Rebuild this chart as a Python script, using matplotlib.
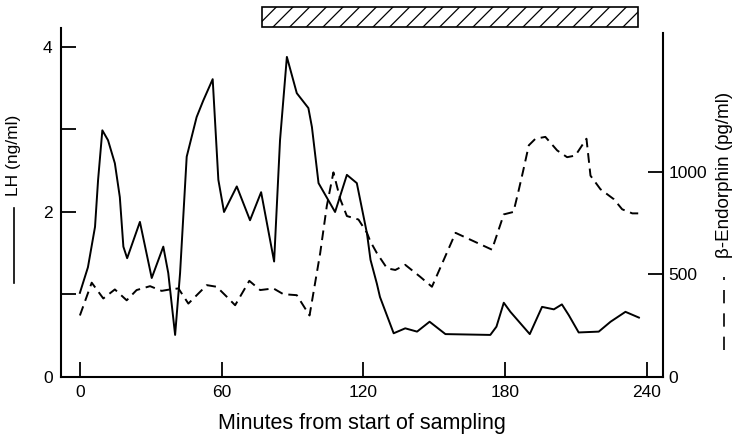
import matplotlib
matplotlib.use("Agg")
import matplotlib.pyplot as plt
from matplotlib.patches import Rectangle
from matplotlib.lines import Line2D
import numpy as np

plt.rcParams['font.family'] = ['Liberation Sans', 'DejaVu Sans']
plt.rcParams['hatch.linewidth'] = 0.9

# LH (ng/ml), solid line
lh_min = [0, 3.4, 6.4, 7.7, 9.5, 11.9, 14.8, 16.9, 18.4, 20, 25.4, 30.4, 35.3, 37.4,
          40.3, 42.4, 45.2, 49.4, 52.2, 56.2, 58.6, 61, 66.4, 72, 76.7, 82.2, 84.7,
          87.6, 91.8, 96.7, 98.2, 101, 108, 113, 117.2, 121.5, 123, 125.7, 127,
          132.8, 137.7, 142.7, 148, 154.7, 173.7, 176.3, 179.4, 182.2, 190.4,
          195.6, 200.6, 204, 206.9, 211.1, 219.6, 224.6, 230.9, 236.6]
lh_val = [1.02, 1.33, 1.82, 2.39, 2.99, 2.87, 2.59, 2.18, 1.58, 1.44, 1.88, 1.20, 1.58, 1.26,
          0.51, 1.26, 2.67, 3.15, 3.35, 3.61, 2.39, 2.00, 2.31, 1.90, 2.24, 1.40, 2.87,
          3.88, 3.44, 3.26, 3.03, 2.35, 2.00, 2.45, 2.35, 1.74, 1.42, 1.13, 0.97,
          0.53, 0.59, 0.55, 0.67, 0.52, 0.51, 0.61, 0.90, 0.79, 0.52,
          0.85, 0.82, 0.88, 0.75, 0.54, 0.55, 0.67, 0.79, 0.72]

# beta-endorphin (pg/ml), dashed line
be_min = [0, 5, 9.9, 14.8, 19.8, 24, 29.7, 34.6, 38.1, 41.7, 45.9, 53.7, 57.9,
          62.2, 65.7, 71.7, 76.3, 81.9, 86.1, 91.8, 97.2, 101.7, 104.5, 107.3,
          110.2, 113, 117.9, 121.5, 122.9, 125.7, 130, 133.5, 137.7, 144, 149,
          159, 166.7, 174.4, 179.4, 183.5, 185.5, 187.5, 190, 192.8, 197, 202,
          206.2, 209.7, 214.4, 216.1, 220.3, 226, 229.5, 233.8, 236.3]
be_val = [300, 460, 383, 427, 374, 424, 443, 420, 427, 432, 358, 448, 440,
          391, 350, 469, 424, 432, 404, 399, 300, 604, 834, 998,
          867, 785, 768, 703, 662, 604, 530, 522, 547, 489, 440,
          703, 662, 621, 793, 805, 900, 1000, 1130, 1162, 1171, 1105,
          1072, 1080, 1162, 982, 916, 867, 818, 798, 798]

x_ticks = [0, 60, 120, 180, 240]
lh_ticks = [0, 1, 2, 3, 4]
lh_labels = ['0', '', '2', '', '4']
be_ticks = [0, 500, 1000]
bar_span = (77, 236.4)

fig = plt.figure(figsize=(7.34, 4.37), dpi=100)
ax = fig.add_axes([0.0831, 0.1373, 0.8202, 0.7986])
ax2 = ax.twinx()

ax.plot(lh_min, lh_val, color='black', lw=1.4, solid_joinstyle='round')
ax2.plot(be_min, be_val, color='black', lw=1.4, dashes=(5, 3))

ax.set_xlim(-8, 246.8)
ax.set_ylim(0, 4.23)
ax2.set_ylim(0, 1702)

ax.set_xticks(x_ticks)
ax.set_yticks(lh_ticks)
ax.set_yticklabels(lh_labels)
ax2.set_yticks(be_ticks)

for a in (ax, ax2):
    a.spines['top'].set_visible(False)
    for s in a.spines.values():
        s.set_linewidth(1.5)
ax.spines['right'].set_visible(False)
ax2.spines['left'].set_visible(False)
ax2.spines['bottom'].set_visible(False)
ax2.spines['right'].set_bounds(0, 1678)

ax.tick_params(axis='both', direction='in', length=10.5, width=1.3,
               labelsize=12.5, pad=6)
ax2.tick_params(axis='y', direction='in', length=10.5, width=1.3,
                labelsize=12.5, pad=4)

ax.set_xlabel('Minutes from start of sampling', fontsize=15.5, labelpad=9)

# y labels with line-style keys drawn beside them
fig.text(0.019, 0.645, 'LH (ng/ml)', rotation=90, fontsize=12.5,
         ha='center', va='center')
fig.add_artist(Line2D([0.019, 0.019], [0.352, 0.525], color='black', lw=1.2,
                      transform=fig.transFigure))
fig.text(0.987, 0.6, 'β-Endorphin (pg/ml)', rotation=90, fontsize=13.5,
         ha='center', va='center')
fig.add_artist(Line2D([0.987, 0.987], [0.199, 0.366], color='black', lw=1.2,
                      dashes=(8, 6), transform=fig.transFigure))

# hatched bar above the plot
trans = ax.get_xaxis_transform()
ax.add_patch(Rectangle((bar_span[0], 1.003), bar_span[1] - bar_span[0], 0.057,
                       transform=trans, facecolor='white', edgecolor='black',
                       hatch='//', lw=1.2, clip_on=False))

fig.savefig('out.png', dpi=100)
